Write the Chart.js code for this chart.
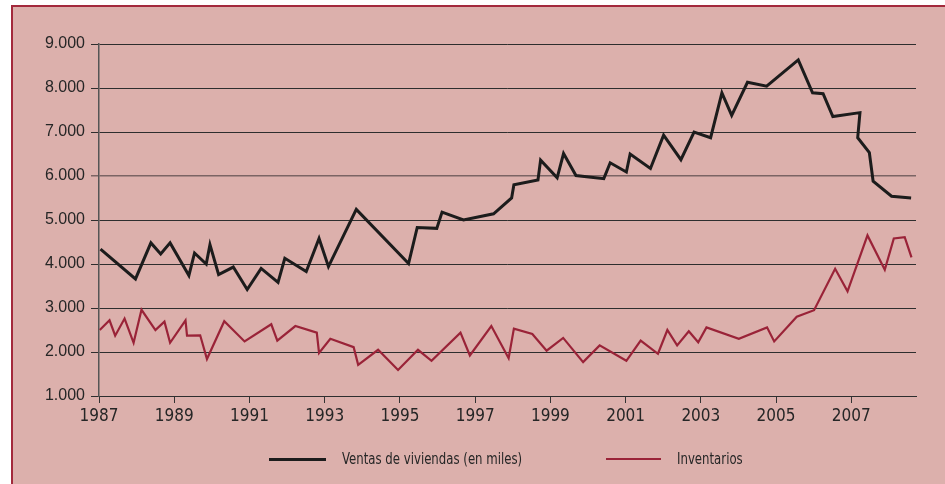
<!DOCTYPE html>
<html>
<head>
<meta charset="utf-8">
<script src="https://cdn.jsdelivr.net/npm/chart.js@4.4.1/dist/chart.umd.min.js"></script>
<style>
    html, body { margin: 0; padding: 0; background: #fff; width: 945px; height: 484px; overflow: hidden; }
    #frame { position: absolute; left: 11px; top: 5px; right: 0; bottom: 0; background: #dcb0ac;
             border-left: 2px solid #a3293c; border-top: 2px solid #a3293c; }
    #wrap { position: absolute; left: 0; top: 0; width: 945px; height: 484px; }
    #legend { position: absolute; left: 0; top: 448px; width: 945px; height: 22px;
              font-family: "Liberation Sans Narrow", "DejaVu Sans Condensed", sans-serif; font-size: 15px; color: #262626; }
    .item { position: absolute; top: 0; height: 22px; display: flex; align-items: center; white-space: nowrap; }
    .swatch { display: inline-block; margin-right: 16px; }
    .label { display: inline-block; transform: scaleX(0.87); transform-origin: left center; }
</style>
</head>
<body>
<div id="frame"></div>
<div id="wrap"><canvas id="chart"></canvas></div>
<div id="legend"></div>
<script>
const yearTicks = [1987, 1989, 1991, 1993, 1995, 1997, 1999, 2001, 2003, 2005, 2007];

const salesYears = [1987.04, 1987.97, 1988.38, 1988.64, 1988.89, 1989.39, 1989.54, 1989.85, 1989.95, 1990.18,
    1990.57, 1990.94, 1991.31, 1991.76, 1991.94, 1992.51, 1992.85, 1993.10, 1993.84, 1995.23,
    1995.46, 1995.98, 1996.12, 1996.69, 1997.49, 1997.97, 1998.03, 1998.67, 1998.74, 1999.18,
    1999.35, 1999.68, 2000.42, 2000.59, 2001.02, 2001.12, 2001.66, 2002.01, 2002.47, 2002.82,
    2003.26, 2003.56, 2003.82, 2004.24, 2004.75, 2005.59, 2005.97, 2006.25, 2006.51, 2007.23,
    2007.17, 2007.48, 2007.58, 2008.07, 2008.59];
const salesValues = [4340, 3660, 4480, 4230, 4480, 3740, 4250, 4000, 4440, 3760,
    3930, 3420, 3900, 3580, 4130, 3830, 4580, 3940, 5240, 4010,
    4830, 4810, 5180, 5000, 5140, 5500, 5800, 5910, 6360, 5960,
    6510, 6010, 5940, 6300, 6090, 6500, 6170, 6930, 6370, 7000,
    6870, 7890, 7380, 8130, 8040, 8640, 7890, 7870, 7350, 7440,
    6870, 6530, 5880, 5540, 5500];

const invYears = [1987.02, 1987.28, 1987.43, 1987.68, 1987.92, 1988.13, 1988.50, 1988.74, 1988.89, 1989.30,
    1989.34, 1989.69, 1989.87, 1990.33, 1990.87, 1991.58, 1991.74, 1992.22, 1992.79, 1992.85,
    1993.15, 1993.77, 1993.89, 1994.42, 1994.95, 1995.48, 1995.84, 1996.61, 1996.86, 1997.43,
    1997.89, 1998.03, 1998.52, 1998.90, 1999.34, 1999.87, 2000.31, 2001.02, 2001.40, 2001.86,
    2002.11, 2002.37, 2002.68, 2002.93, 2003.15, 2004.01, 2004.76, 2004.95, 2005.55, 2006.01,
    2006.57, 2006.90, 2007.43, 2007.89, 2008.13, 2008.42, 2008.60];
const invValues = [2500, 2720, 2370, 2760, 2210, 2960, 2500, 2690, 2210, 2720,
    2370, 2380, 1840, 2700, 2240, 2630, 2260, 2590, 2440, 1980,
    2300, 2110, 1710, 2050, 1590, 2050, 1800, 2440, 1920, 2590,
    1860, 2530, 2410, 2030, 2320, 1770, 2150, 1800, 2260, 1960,
    2500, 2150, 2470, 2220, 2560, 2300, 2560, 2240, 2800, 2950,
    3890, 3380, 4650, 3870, 4580, 4610, 4150];

const NARROW = "'Liberation Sans Narrow', 'DejaVu Sans Condensed', sans-serif";
const INK = "#262626";

function points(xs, ys) {
    return xs.map((x, i) => ({ x, y: ys[i] }));
}

// 9000 -> "9.000"
function thousands(v) {
    return String(v).replace(/\B(?=(\d{3})+(?!\d))/g, ".");
}

const chart = new Chart(document.getElementById("chart").getContext("2d"), {
    type: "line",
    data: {
        datasets: [
            {
                label: "Ventas de viviendas (en miles)",
                data: points(salesYears, salesValues),
                borderColor: "#1c1c1c",
                borderWidth: 3,
                pointRadius: 0,
                tension: 0,
            },
            {
                label: "Inventarios",
                data: points(invYears, invValues),
                borderColor: "#9a2338",
                borderWidth: 2.2,
                pointRadius: 0,
                tension: 0,
            },
        ],
    },
    options: {
        responsive: true,
        maintainAspectRatio: false,
        animation: false,
        layout: { padding: { left: 0, right: 29, top: 44, bottom: 58 } },
        plugins: { legend: { display: false }, tooltip: { enabled: false } },
        scales: {
            x: {
                type: "linear",
                min: 1987,
                max: 2008.72,
                afterBuildTicks: s => { s.ticks = yearTicks.map(v => ({ value: v })); },
                afterFit: s => { s.height = 30; },
                grid: { drawOnChartArea: false, drawTicks: true, tickLength: 7, color: "#333" },
                border: { display: true, color: "#2e2e2e", width: 1 },
                ticks: {
                    color: INK, padding: 3, maxRotation: 0, autoSkip: false,
                    font: { family: NARROW, size: 17 },
                    callback: v => String(v),
                },
            },
            y: {
                min: 1000,
                max: 9000,
                afterFit: s => { s.width = 99; },
                grid: {
                    color: c => (c.tick && c.tick.value === 6000 ? "#7b6464" : "#2e2e2e"),
                    lineWidth: c => (c.tick && c.tick.value === 6000 ? 1.5 : 1),
                    tickLength: 8,
                },
                border: { display: true, color: "#555", width: 1.5 },
                ticks: {
                    stepSize: 1000, padding: 6, color: INK,
                    font: { family: "'Liberation Sans', Arial, sans-serif", size: 16 },
                    callback: thousands,
                },
            },
        },
    },
});

// legend drawn as html, spread like the original
const legendLeft = [269, 606];
const legendLen = [57, 55];
const legendEl = document.getElementById("legend");
chart.data.datasets.forEach((ds, i) => {
    const item = document.createElement("div");
    item.className = "item";
    item.style.left = legendLeft[i] + "px";
    const sw = document.createElement("span");
    sw.className = "swatch";
    sw.style.width = legendLen[i] + "px";
    sw.style.height = (i === 0 ? 3 : 2.5) + "px";
    sw.style.background = ds.borderColor;
    const txt = document.createElement("span");
    txt.className = "label";
    txt.textContent = ds.label;
    item.appendChild(sw);
    item.appendChild(txt);
    legendEl.appendChild(item);
});
</script>
</body>
</html>
